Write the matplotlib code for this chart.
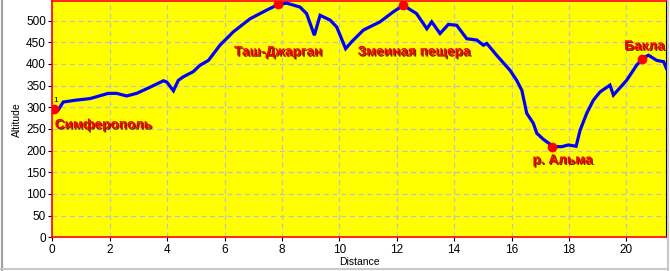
import matplotlib
matplotlib.use("Agg")
import matplotlib.pyplot as plt
import matplotlib.patheffects as pe
from matplotlib.lines import Line2D

# Elevation profile (distance km, altitude m)
distance = [0.05, 0.2, 0.38, 0.79, 1.32, 1.95, 2.24, 2.59, 2.94, 3.4, 3.87, 3.99, 4.22, 4.39,
            4.56, 4.91, 5.15, 5.44, 5.84, 6.31, 6.89, 7.47, 7.87, 8.17, 8.63, 8.86, 9.13,
            9.33, 9.68, 9.91, 10.22, 10.43, 10.72, 10.84, 11.42, 11.88, 12.23, 12.69, 13.05,
            13.22, 13.51, 13.8, 14.09, 14.44, 14.79, 15.02, 15.14, 15.48, 15.95, 16.18,
            16.36, 16.53, 16.76, 16.88, 17.11, 17.46, 17.75, 17.98, 18.25, 18.39, 18.62,
            18.85, 19.08, 19.43, 19.55, 20.01, 20.36, 20.56, 20.77, 21.06, 21.3, 21.4]
altitude = [295, 293, 312, 316, 320, 332, 332, 326, 332, 346, 361, 358, 338, 362,
            370, 382, 397, 408, 443, 474, 504, 524, 537, 540, 531, 516, 466,
            512, 501, 485, 435, 451, 470, 478, 497, 520, 535, 516, 481,
            497, 470, 491, 489, 458, 455, 443, 447, 420, 385, 362,
            339, 286, 263, 240, 226, 209, 209, 213, 210, 247, 286,
            316, 335, 351, 328, 362, 397, 412, 420, 408, 405, 389]

# Waypoints
wp_names = ["Симферополь", "Таш-Джарган", "Змеиная пещера", "р. Альма", "Бакла"]
wp_dist = [0.05, 7.87, 12.23, 17.4, 20.56]
wp_alt = [295, 537, 535, 209, 412]

x_ticks = [0, 2, 4, 6, 8, 10, 12, 14, 16, 18, 20]
y_ticks = [0, 50, 100, 150, 200, 250, 300, 350, 400, 450, 500]

plt.rcParams['font.family'] = ['Liberation Sans', 'DejaVu Sans']

fig = plt.figure(figsize=(6.7, 2.71), dpi=100)
fig.patch.set_facecolor('white')
ax = fig.add_axes([52.3 / 670, 1 - 237.3 / 271, (666.5 - 52.3) / 670, (237.3 - 1) / 271])
ax.set_facecolor('#ffff00')

ax.plot(distance, altitude, color='#0000ff', lw=2.3, solid_joinstyle='miter', zorder=3)
ax.plot(wp_dist, wp_alt, 'o', color='#ff0000', ms=6, mec='#ff0000', zorder=4)

offsets = [(1, -15, 'left'), (0, -47, 'center'), (11, -46, 'center'), (11, -13, 'center'), (2, 13, 'center')]
for name, xd, yd, (dx, dy, ha) in zip(wp_names, wp_dist, wp_alt, offsets):
    ax.annotate(name, (xd, yd), xytext=(dx, dy), textcoords='offset pixels',
                ha=ha, va='center', color='#ff0000', fontsize=9.8, fontweight='bold',
                path_effects=[pe.SimplePatchShadow(offset=(0.9, -0.9), shadow_rgbFace='#6a2a00', alpha=1.0),
                              pe.Normal()], zorder=5)
ax.annotate("1", (wp_dist[0], wp_alt[0]), xytext=(2, 9), textcoords='offset pixels',
            ha='center', va='center', fontsize=6, color='black', zorder=5)

ax.set_xlim(0, 21.4)
ax.set_ylim(0, 545)
ax.set_xticks(x_ticks)
ax.set_yticks(y_ticks)
ax.tick_params(axis='both', labelsize=8.5, length=3, width=0.8, color='black', pad=1.5)
ax.grid(True, color='#c0c0c0', linestyle=(0, (4, 3)), linewidth=0.9)
ax.set_axisbelow(True)

for s in ['left', 'bottom', 'top']:
    ax.spines[s].set_color('#ff0000')
    ax.spines[s].set_linewidth(1.2)
ax.spines['right'].set_color('black')
ax.spines['right'].set_linewidth(1.5)

ax.set_xlabel('Distance', fontsize=7.5, labelpad=1)
ax.set_ylabel('Altitude', fontsize=7.5, labelpad=3)

# window frame
fig.add_artist(Line2D([1.5 / 670, 1.5 / 670], [0, 1], transform=fig.transFigure, color='#a0a0a0', lw=1.5))
fig.add_artist(Line2D([0, 668 / 670], [2.3 / 271, 2.3 / 271], transform=fig.transFigure, color='#c8c8c8', lw=1.5))
fig.add_artist(Line2D([668 / 670, 668 / 670], [0, 1], transform=fig.transFigure, color='#c8c8c8', lw=1.5))

fig.savefig('out.png', dpi=100)
